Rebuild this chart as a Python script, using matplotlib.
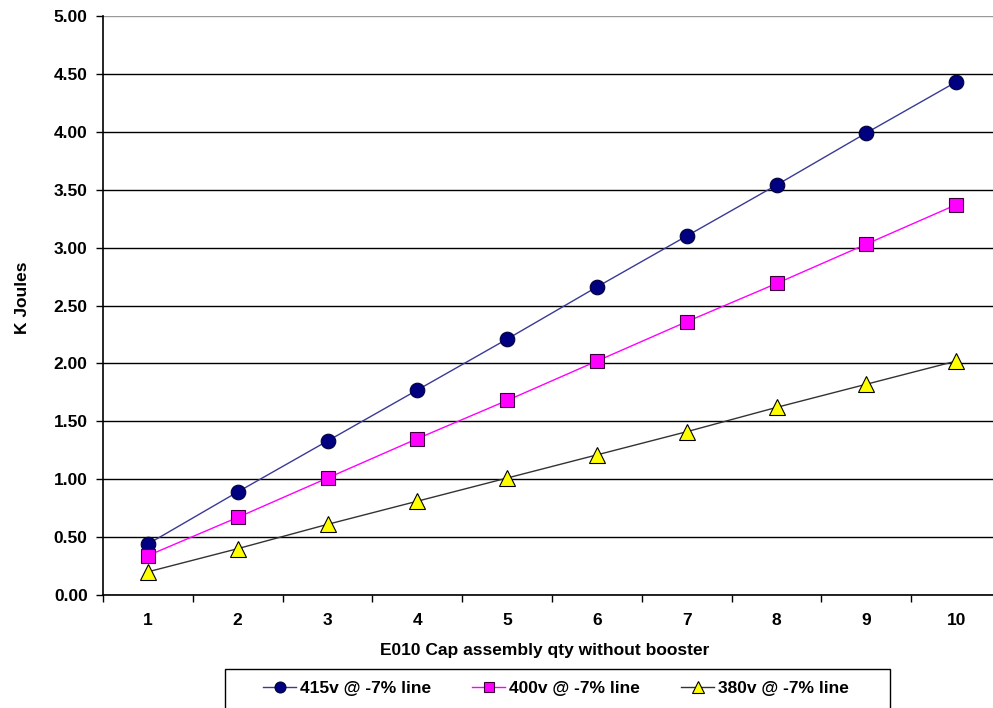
import numpy as np
import matplotlib
matplotlib.use("Agg")
import matplotlib.pyplot as plt
from matplotlib.patches import Rectangle

plt.rcParams["font.family"] = ["Liberation Sans", "DejaVu Sans"]
plt.rcParams["font.weight"] = "bold"

# data
qty = ["1", "2", "3", "4", "5", "6", "7", "8", "9", "10"]
kj_415 = [0.44, 0.89, 1.33, 1.77, 2.21, 2.66, 3.10, 3.54, 3.99, 4.43]
kj_400 = [0.34, 0.67, 1.01, 1.35, 1.68, 2.02, 2.36, 2.69, 3.03, 3.37]
kj_380 = [0.20, 0.40, 0.61, 0.81, 1.01, 1.21, 1.41, 1.62, 1.82, 2.02]

SERIES = [
    (kj_415, "415v @ -7% line", "#3a3a96", "o", "#000080", "#00003a", 10.5),
    (kj_400, "400v @ -7% line", "#ff00ff", "s", "#ff00ff", "#3a003a", 10),
    (kj_380, "380v @ -7% line", "#333333", "^", "#ffff00", "#000000", 11.5),
]

fig = plt.figure(figsize=(9.93, 7.08), dpi=100)
W, H = 993, 708
ax = fig.add_axes([103 / W, 1 - 595 / H, 898 / W, 579 / H])

x = np.arange(len(qty))
for vals, label, lc, mk, fc, ec, ms in SERIES:
    ax.plot(x, vals, color=lc, linewidth=1.0, marker=mk, markersize=ms,
            markerfacecolor=fc, markeredgecolor=ec, markeredgewidth=0.8,
            label=label, zorder=3)

ax.set_xlim(-0.5, len(qty) - 0.5)
ax.set_ylim(0, 5.0)

# category axis: ticks between categories, labels at centres
ax.set_xticks(np.arange(-0.5, len(qty)), labels=[])
ax.set_xticks(x, labels=qty, minor=True)
ax.tick_params(axis="x", which="major", direction="out", length=5, width=1, color="black")
ax.tick_params(axis="x", which="minor", length=0, pad=13, labelsize=12.5)

ax.set_yticks(np.arange(0, 5.01, 0.5))
ax.set_yticklabels([f"{v:.2f}" for v in np.arange(0, 5.01, 0.5)], fontsize=12.5)
ax.tick_params(axis="y", direction="out", length=5, width=1, pad=6)

ax.grid(axis="y", color="black", linewidth=1.0, zorder=0)
ax.set_axisbelow(True)
gl = ax.get_ygridlines()
gl[-1].set_color("#999999")

for side in ["top", "right"]:
    ax.spines[side].set_visible(False)
ax.spines["left"].set_linewidth(1.2)
ax.spines["bottom"].set_linewidth(1.2)

ax.set_xlabel("E010 Cap assembly qty without booster", fontsize=12.5, fontweight="bold")
ax.xaxis.set_label_coords(0.492, -0.083)
ax.set_ylabel("K Joules", fontsize=12.5, fontweight="bold")
ax.yaxis.set_label_coords(-0.081, 0.513)

handles, labels = ax.get_legend_handles_labels()
fig.legend(handles, labels, loc="center", ncol=3, frameon=False,
           bbox_to_anchor=(556 / W, 1 - 688 / H), fontsize=12.5,
           markerscale=0.75, handlelength=1.9, handletextpad=0.2,
           columnspacing=2.4)
fig.add_artist(Rectangle((225 / W, -0.1), 665 / W, 0.1 + 1 - 669 / H,
                         transform=fig.transFigure, fill=False,
                         edgecolor="black", linewidth=1.0))

fig.savefig("out.png", dpi=100)
